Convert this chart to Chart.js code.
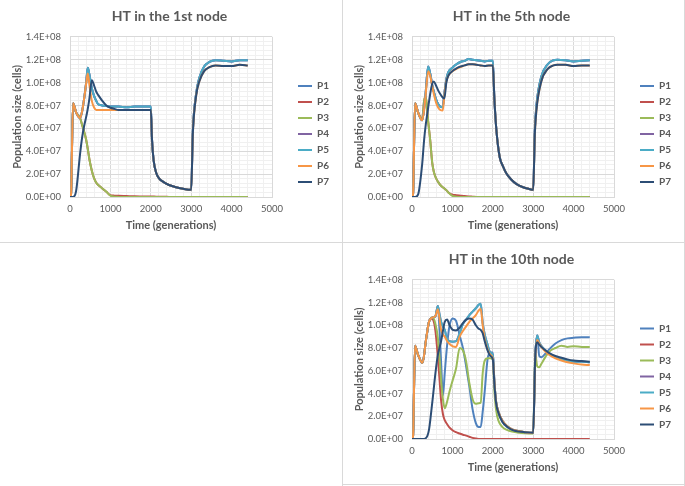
<!DOCTYPE html>
<html>
<head>
<meta charset="utf-8">
<script src="https://cdn.jsdelivr.net/npm/chart.js@4.4.1/dist/chart.umd.min.js"></script>
<style>
  html, body { margin: 0; padding: 0; background: #fff; }
  body { width: 685px; height: 486px; position: relative; overflow: hidden; }
  canvas { position: absolute; display: block; }
  .rule { position: absolute; background: #D9D9D9; }
</style>
</head>
<body>
<canvas id="c1" width="342" height="242" style="left:0;top:0"></canvas>
<canvas id="c2" width="342" height="242" style="left:342px;top:0"></canvas>
<canvas id="c3" width="342" height="241" style="left:342px;top:243px"></canvas>
<div class="rule" style="left:342px;top:0;width:1px;height:486px"></div>
<div class="rule" style="left:0;top:242px;width:685px;height:1px"></div>
<div class="rule" style="left:684px;top:0;width:1px;height:486px"></div>
<div class="rule" style="left:342px;top:484px;width:343px;height:1px"></div>
<script>
// series names and colours (P1..P7)
const seriesNames = ['P1', 'P2', 'P3', 'P4', 'P5', 'P6', 'P7'];
const seriesColors = ['#4F81BD', '#C0504D', '#9BBB59', '#8064A2', '#4BACC6', '#F79646', '#2C4D75'];

// ---- HT in the 1st node ----
const t1 = [0,25,75,150,250,300,350,400,440,480,540,600,650,700,800,900,1000,1100,1200,1400,1600,1800,2000,2030,2070,2135,2200,2300,2450,2600,2800,3000,3040,3120,3200,3320,3450,3600,3800,4000,4200,4400];
const n1P2 = [0,2e6,82e6,74e6,69e6,63e6,57e6,50e6,42e6,33e6,23e6,16e6,12.5e6,10.5e6,7.5e6,4.5e6,1.5e6,1.2e6,1.0e6,0.8e6,0.6e6,0.5e6,0.4e6,0.4e6,0.35e6,0.3e6,0.3e6,0.2e6,0.1e6,0,0,0,0,0,0,0,0,0,0,0,0,0];
const n1P3 = [0,2e6,82e6,74e6,69e6,63e6,57e6,50e6,42e6,33e6,23e6,16e6,12.5e6,10.5e6,7.5e6,4.5e6,1.2e6,0.3e6,0.1e6,0,0,0,0,0,0,0,0,0,0,0,0,0,0,0,0,0,0,0,0,0,0,0];
const n1P5 = [0,2e6,82e6,74e6,69e6,75e6,86e6,100e6,113e6,107e6,95e6,88e6,84e6,81e6,80e6,79.5e6,79e6,79e6,79e6,78.5e6,79e6,79e6,79e6,50e6,32e6,21e6,16.5e6,13.4e6,10.5e6,8.8e6,7.2e6,6.3e6,57e6,90e6,104e6,114e6,118e6,119.5e6,119e6,118.5e6,119.5e6,119.5e6];
const n1P1 = n1P5;
const n1P4 = n1P5;
const n1P6 = [0,2e6,82e6,74e6,69e6,75e6,86e6,99e6,108e6,98e6,84e6,78e6,76e6,76e6,76e6,76e6,76e6,76e6,76e6,76e6,76e6,76e6,76e6,50e6,32e6,21e6,16.5e6,13.4e6,10.5e6,8.8e6,7.2e6,6.3e6,55e6,88e6,101e6,110e6,113.5e6,115e6,114.5e6,114.5e6,115.5e6,115e6];
const n1P7 = [0,0,0,5e6,38e6,52e6,62e6,70e6,77e6,86e6,102e6,97e6,92e6,89e6,84e6,80e6,78e6,77e6,76e6,76e6,76e6,76e6,76e6,50e6,32e6,21e6,16.5e6,13.4e6,10.5e6,8.8e6,7.2e6,6.3e6,55e6,88e6,101e6,110e6,113.5e6,115e6,114.5e6,114.5e6,115.5e6,115e6];

// ---- HT in the 5th node ----
const t2 = [0,25,75,150,250,300,340,400,450,500,540,600,650,700,760,800,850,900,1000,1100,1200,1300,1400,1500,1600,1700,1800,1900,2000,2040,2090,2170,2250,2330,2450,2580,2750,2900,3000,3040,3080,3200,3360,3500,3600,3800,4000,4200,4400];
const n2P2 = [0,2e6,82e6,74e6,68e6,84e6,88e6,66e6,50e6,30e6,22e6,16e6,13e6,10.5e6,8.5e6,7.5e6,6e6,4e6,2e6,1.6e6,1.2e6,0.8e6,0.5e6,0.3e6,0.1e6,0,0,0,0,0,0,0,0,0,0,0,0,0,0,0,0,0,0,0,0,0,0,0,0];
const n2P3 = [0,2e6,82e6,74e6,68e6,84e6,88e6,66e6,50e6,30e6,22e6,16e6,13e6,10.5e6,8.5e6,7.5e6,6e6,4e6,1e6,0.3e6,0,0,0,0,0,0,0,0,0,0,0,0,0,0,0,0,0,0,0,0,0,0,0,0,0,0,0,0,0];
const n2P5 = [0,2e6,82e6,74e6,67e6,77e6,92e6,114e6,108e6,98e6,92e6,85e6,81e6,79e6,78.5e6,90e6,103e6,109e6,113e6,116e6,118e6,119e6,120.5e6,120e6,119.5e6,119e6,118.5e6,119e6,119e6,85e6,58e6,35e6,27e6,21e6,15.5e6,11.5e6,8.5e6,7e6,6.3e6,58e6,80e6,105e6,116e6,119.5e6,120e6,119.5e6,118.5e6,119e6,119.5e6];
const n2P1 = n2P5;
const n2P4 = n2P5;
const n2P6 = [0,2e6,82e6,74e6,67e6,76e6,90e6,110e6,106e6,97e6,90e6,82e6,78e6,76e6,75.5e6,88e6,101e6,106e6,110e6,112e6,113.5e6,115e6,116e6,116e6,115.5e6,115e6,114.5e6,115e6,115e6,85e6,58e6,35e6,27e6,21e6,15.5e6,11.5e6,8.5e6,7e6,6.3e6,55e6,76e6,101e6,112e6,115e6,115.5e6,115.5e6,114.5e6,115e6,115e6];
const n2P7 = [0,0,0,2e6,28e6,50e6,63e6,78e6,90e6,99e6,101e6,97e6,93e6,90e6,87e6,86e6,100e6,106e6,110e6,112.5e6,114e6,115e6,116e6,116e6,115.5e6,115e6,114.5e6,115e6,115e6,85e6,58e6,35e6,27e6,21e6,15.5e6,11.5e6,8.5e6,7e6,6.3e6,55e6,76e6,101e6,112e6,115e6,115.5e6,115.5e6,114.5e6,115e6,115e6];

// ---- HT in the 10th node ----
const t3 = [0,25,75,150,260,350,420,470,520,580,640,680,720,765,810,870,930,1010,1090,1180,1260,1340,1420,1500,1580,1650,1700,1750,1800,1870,1940,2000,2040,2080,2140,2240,2350,2480,2650,2800,3000,3050,3100,3150,3200,3300,3400,3550,3700,3850,4000,4200,4400];
const n3P1 = [0,2e6,82e6,74e6,67e6,88e6,103e6,106e6,107e6,108e6,117e6,97e6,68e6,38e6,58e6,83e6,100e6,106e6,104e6,91e6,80e6,64e6,46e6,26e6,14e6,10.5e6,10.5e6,24e6,42e6,70e6,76e6,76e6,50e6,33e6,23e6,15e6,10.5e6,8e6,6.5e6,6e6,5.5e6,72e6,91e6,73e6,72e6,75e6,79e6,84e6,87e6,88.5e6,89e6,89.5e6,89.5e6];
const n3P2 = [0,2e6,82e6,74e6,67e6,88e6,103e6,106e6,105e6,95e6,72e6,53e6,34e6,22e6,16.5e6,13e6,10e6,7.5e6,6e6,4.8e6,3.8e6,3e6,2e6,1e6,0.4e6,0.1e6,0,0,0,0,0,0,0,0,0,0,0,0,0,0,0,0,0,0,0,0,0,0,0,0,0,0,0];
const n3P3 = [0,2e6,82e6,74e6,67e6,88e6,103e6,106e6,107e6,101e6,89e6,72e6,52e6,35e6,27e6,33e6,42e6,52e6,62e6,80e6,78e6,68e6,49e6,35e6,31e6,31.5e6,32e6,58e6,69e6,71e6,71e6,70e6,42e6,26e6,16e6,10.5e6,8e6,6.5e6,5.5e6,5e6,4.8e6,75e6,64e6,63e6,66e6,72e6,77e6,80e6,82e6,81e6,81.5e6,81e6,81e6];
const n3P5 = [0,2e6,82e6,74e6,67e6,88e6,103e6,106e6,107e6,108e6,117e6,110e6,103e6,99e6,96e6,88e6,86e6,85.5e6,86e6,93e6,101e6,105e6,109e6,112e6,115e6,118e6,119e6,102e6,92e6,83e6,76e6,74e6,50e6,33e6,24e6,16e6,11.5e6,8.5e6,7e6,6e6,5.5e6,72e6,91e6,85e6,82e6,78e6,75e6,72e6,70e6,69e6,68e6,68e6,67.5e6];
const n3P4 = n3P5;
const n3P6 = [0,2e6,82e6,74e6,67e6,88e6,103e6,106e6,107e6,108e6,114e6,106e6,96e6,92e6,90e6,86e6,83.5e6,81.5e6,81e6,90e6,95e6,99e6,103e6,106e6,109e6,113e6,114.5e6,100e6,88e6,79e6,74e6,71e6,50e6,33e6,24e6,16e6,11.5e6,8.5e6,7e6,6e6,5.5e6,70e6,87e6,84e6,81e6,77e6,74e6,71e6,69e6,67.5e6,66.5e6,65.5e6,65e6];
const n3P7 = [0,0,0,0,0,1e6,8e6,22e6,38e6,58e6,74e6,80e6,86e6,95e6,103e6,105e6,100e6,96e6,95.5e6,98e6,102e6,105e6,106e6,105e6,100e6,97e6,96e6,93e6,86e6,78e6,73e6,70e6,48e6,32e6,23e6,15e6,11e6,8e6,6.5e6,6e6,5.5e6,72e6,85e6,83e6,81e6,78e6,75.5e6,73e6,71.5e6,70e6,69e6,68.5e6,68e6];

Chart.defaults.font.family = 'Lato, "Open Sans", sans-serif';
Chart.defaults.color = '#595959';

function sci(v) {
  if (v === 0) return '0.0E+00';
  const e = Math.floor(Math.log10(v) + 1e-9);
  const m = v / Math.pow(10, e);
  return m.toFixed(1) + 'E+' + String(e).padStart(2, '0');
}

function makeChart(id, title, t, series) {
  const datasets = series.map(function(vals, i) {
    return {
      label: seriesNames[i],
      data: t.map(function(x, k) { return {x: x, y: vals[k]}; }),
      borderColor: seriesColors[i],
      backgroundColor: seriesColors[i],
      borderWidth: 2,
      pointRadius: 0,
      cubicInterpolationMode: 'monotone',
      order: 6 - i
    };
  });
  return new Chart(document.getElementById(id), {
    type: 'line',
    data: { datasets: datasets },
    options: {
      responsive: false,
      animation: false,
      layout: { padding: { left: 0, right: 3, top: 0, bottom: 0 } },
      plugins: {
        title: {
          display: true, text: title, color: '#595959',
          font: { size: 14, weight: 'bold' },
          padding: { top: 8, bottom: 12 }
        },
        legend: {
          position: 'right',
          title: { display: true, text: '', padding: 7, font: { size: 10 } },
          labels: {
            usePointStyle: true, pointStyle: 'line', pointStyleWidth: 14,
            boxHeight: 10, padding: 6, color: '#595959',
            font: { size: 10, weight: 'bold' },
            sort: function(a, b) { return a.datasetIndex - b.datasetIndex; }
          }
        },
        tooltip: { enabled: false }
      },
      scales: {
        x: {
          type: 'linear', min: 0, max: 5000,
          afterFit: function(s) { s.height = 45; },
          ticks: {
            stepSize: 200, autoSkip: false, maxRotation: 0, padding: 6,
            font: { size: 9.5 },
            callback: function(v) { return v % 1000 === 0 ? String(v) : ''; }
          },
          grid: {
            drawTicks: false,
            color: function(c) { return c.tick && c.tick.value % 1000 === 0 ? '#D9D9D9' : '#F0F0F0'; }
          },
          border: { color: '#D9D9D9' },
          title: { display: true, text: 'Time (generations)', color: '#595959', font: { size: 11, weight: 'bold' }, padding: { top: 0, bottom: 10 } }
        },
        y: {
          min: 0, max: 1.4e8,
          afterFit: function(s) { s.width = 70; },
          ticks: {
            stepSize: 4e6, autoSkip: false, padding: 9,
            font: { size: 9.5 },
            callback: function(v) { return Math.round(v / 4e6) % 5 === 0 ? sci(v) : ''; }
          },
          grid: {
            drawTicks: false,
            color: function(c) { return c.tick && Math.round(c.tick.value / 4e6) % 5 === 0 ? '#D9D9D9' : '#F0F0F0'; }
          },
          border: { color: '#D9D9D9' },
          title: { display: true, text: 'Population size (cells)', color: '#595959', font: { size: 11, weight: 'bold' }, padding: { top: 11, bottom: 0 } }
        },
        gap: {
          type: 'linear', position: 'right', display: true,
          afterFit: function(s) { s.width = 20; },
          ticks: { display: false },
          grid: { display: false, drawTicks: false },
          border: { display: false }
        }
      }
    }
  });
}

makeChart('c1', 'HT in the 1st node', t1, [n1P1, n1P2, n1P3, n1P4, n1P5, n1P6, n1P7]);
makeChart('c2', 'HT in the 5th node', t2, [n2P1, n2P2, n2P3, n2P4, n2P5, n2P6, n2P7]);
makeChart('c3', 'HT in the 10th node', t3, [n3P1, n3P2, n3P3, n3P4, n3P5, n3P6, n3P7]);
</script>
</body>
</html>
